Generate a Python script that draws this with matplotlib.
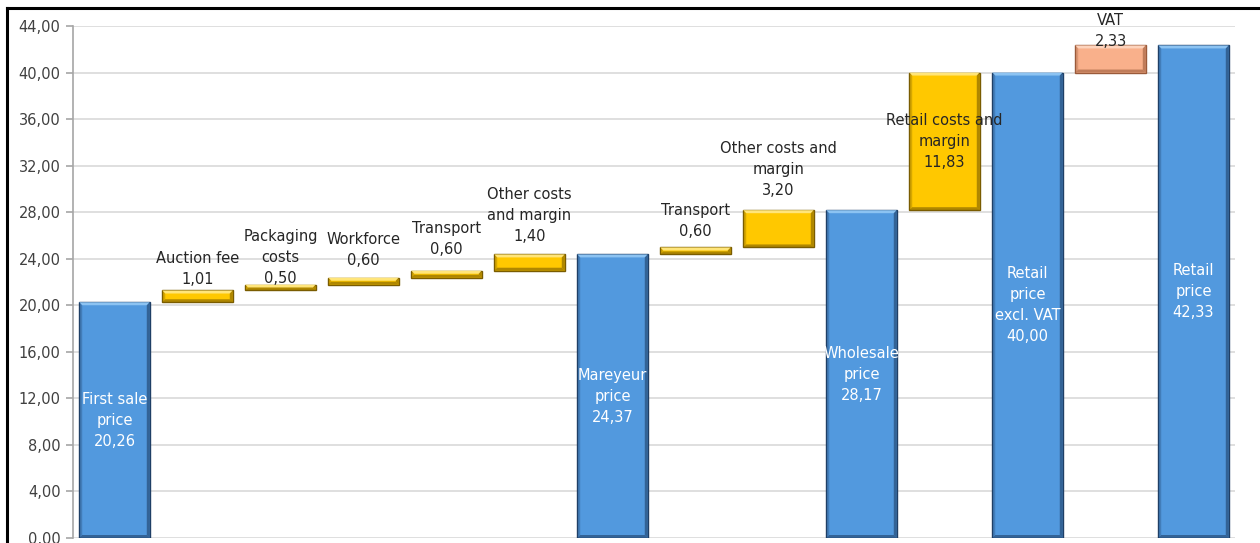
import numpy as np
import matplotlib.pyplot as plt
from matplotlib.patches import Polygon
from matplotlib.lines import Line2D

plt.rcParams['font.family'] = ['DejaVu Sans']

# Waterfall data
labels = ['First sale\nprice', 'Auction fee', 'Packaging\ncosts', 'Workforce', 'Transport',
          'Other costs\nand margin', 'Mareyeur\nprice', 'Transport', 'Other costs and\nmargin',
          'Wholesale\nprice', 'Retail costs and\nmargin', 'Retail\nprice\nexcl. VAT', 'VAT',
          'Retail\nprice']
values = [20.26, 1.01, 0.50, 0.60, 0.60, 1.40, 24.37, 0.60, 3.20, 28.17, 11.83, 40.00, 2.33, 42.33]
kinds = ['total', 'step', 'step', 'step', 'step', 'step', 'total', 'step', 'step', 'total',
         'step', 'total', 'tax', 'total']
yticks = np.arange(0, 45, 4)

colors = {'total': '#5299DE', 'step': '#FFC800', 'tax': '#F9B08B'}
dark = {'total': '#1F3F66', 'step': '#7A5C00', 'tax': '#9A5A3A'}
light = {'total': '#8CC3F2', 'step': '#FFE57A', 'tax': '#FDD3BC'}

# where to put each label (inside the bar or above it) and the gap above the bar in pixels
label_pos = ['in', 'up', 'up', 'up', 'up', 'up', 'in', 'up', 'up', 'in', 'in', 'in', 'up', 'in']
label_gap = [0, 3, -1, 10, 14, 10, 0, 8, 12, 0, 0, 0, -4, 0]

fig = plt.figure(figsize=(12.6, 5.43), dpi=100)
ax = fig.add_axes([73 / 1260, 1 - 538 / 543, (1235 - 73) / 1260, (538 - 26) / 543])

# bases
bottoms = []
running = 0
for v, k in zip(values, kinds):
    if k == 'total':
        bottoms.append(0)
        running = v
    else:
        bottoms.append(running)
        running += v

x = np.arange(len(values))
w = 0.85
ax.set_xlim(-0.5, len(values) - 0.5)
ax.set_ylim(0, 44)

# pixel sizes in data units for the bevel
px_x = 1 / 83.0
px_y = 44 / 512.0
bx = 3 * px_x
by = 3 * px_y

for xi, b, v, k in zip(x, bottoms, values, kinds):
    l, r = xi - w / 2, xi + w / 2
    t = b + v
    ax.bar(xi, v, bottom=b, width=w, color=colors[k], edgecolor=dark[k], linewidth=1.0, zorder=3)
    # bevel: light top, dark right and bottom
    ax.add_patch(Polygon([[l, t], [r, t], [r - bx, t - by], [l + bx, t - by]],
                         closed=True, color=light[k], lw=0, zorder=4))
    ax.add_patch(Polygon([[r, t], [r, b], [r - bx, b + by], [r - bx, t - by]],
                         closed=True, color=dark[k], alpha=0.6, lw=0, zorder=4))
    ax.add_patch(Polygon([[l, b], [r, b], [r - bx, b + by], [l + bx, b + by]],
                         closed=True, color=dark[k], alpha=0.6, lw=0, zorder=4))
    ax.add_patch(Polygon([[l, t], [l, b], [l + bx, b + by], [l + bx, t - by]],
                         closed=True, color=dark[k], alpha=0.3, lw=0, zorder=4))

for xi, b, v, k, lab, pos, gap in zip(x, bottoms, values, kinds, labels, label_pos, label_gap):
    txt = lab + '\n' + f'{v:.2f}'.replace('.', ',')
    if pos == 'in':
        col = 'white' if k == 'total' else '#262626'
        ax.text(xi, b + v / 2, txt, ha='center', va='center', color=col, fontsize=10.5,
                linespacing=1.5, zorder=6)
    else:
        ax.annotate(txt, (xi, b + v), xytext=(0, gap), textcoords='offset pixels',
                    ha='center', va='bottom', color='#262626', fontsize=10.5,
                    linespacing=1.5, zorder=6, annotation_clip=False)

ax.set_yticks(yticks)
ax.set_yticklabels([f'{t:.2f}'.replace('.', ',') for t in yticks], fontsize=10.5, color='#404040')
ax.set_xticks([])
ax.yaxis.grid(True, color='#D9D9D9', linewidth=1.2, zorder=0)
ax.set_axisbelow(True)
for s in ['top', 'right', 'bottom']:
    ax.spines[s].set_visible(False)
ax.spines['left'].set_color('#A6A6A6')
ax.spines['left'].set_linewidth(1.2)
ax.tick_params(axis='y', length=5, color='#A6A6A6', width=1.2, pad=4)

# outer frame of the original figure
fig.add_artist(Line2D([7 / 1260, 1], [1 - 8 / 543, 1 - 8 / 543], color='black', lw=2.2,
                      transform=fig.transFigure))
fig.add_artist(Line2D([7 / 1260, 7 / 1260], [0, 1 - 8 / 543], color='black', lw=2.2,
                      transform=fig.transFigure))

fig.savefig('out.png', dpi=100)
